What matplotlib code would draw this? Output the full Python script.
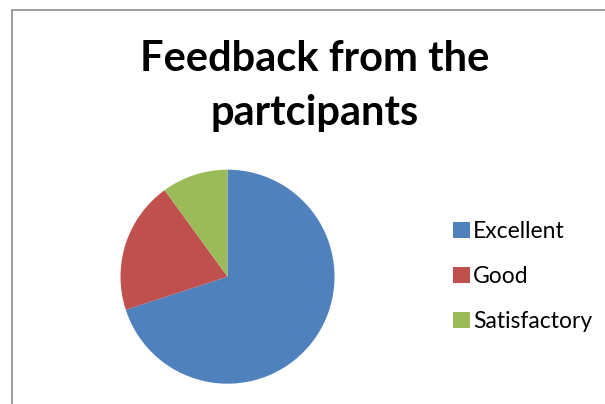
import matplotlib.pyplot as plt
from matplotlib.patches import Rectangle

categories = ['Excellent', 'Good', 'Satisfactory']
values = [70, 20, 10]
colors = ['#4F81BD', '#C0504D', '#9BBB59']
title = 'Feedback from the\npartcipants'

W, H = 605, 404
fig = plt.figure(figsize=(W / 100, H / 100), dpi=100)
fig.patch.set_facecolor('white')

# chart frame (only top and left edges fall inside the picture)
fig.patches.append(Rectangle((12 / W, -0.05), 1.1, (H - 10) / H + 0.05,
                             transform=fig.transFigure, fill=False,
                             edgecolor='#8c8c8c', linewidth=1.2))

# pie axes: centre (227, 277) px, radius 107 px
cx, cy, r = 227.5, 276.7, 107
ax = fig.add_axes([(cx - r) / W, (H - cy - r) / H, 2 * r / W, 2 * r / H])
wedges, _ = ax.pie(values, colors=colors, startangle=90, counterclock=False,
                   radius=1.0, wedgeprops=dict(linewidth=0))
ax.set_xlim(-1, 1)
ax.set_ylim(-1, 1)
ax.axis('off')

fig.text(315 / W, 1 - 86 / H, title, ha='center', va='center',
         fontsize=30, fontweight='bold', family='Lato', linespacing=1.5)

leg = fig.legend(wedges, categories, loc='upper left',
                 bbox_to_anchor=(453 / W, 1 - 221 / H), frameon=False,
                 prop=dict(family='Lato', size=16.5), handlelength=0.72,
                 handleheight=0.72, handletextpad=0.15, labelspacing=1.05,
                 borderpad=0, borderaxespad=0)

fig.savefig('out.png', dpi=100, facecolor='white')
